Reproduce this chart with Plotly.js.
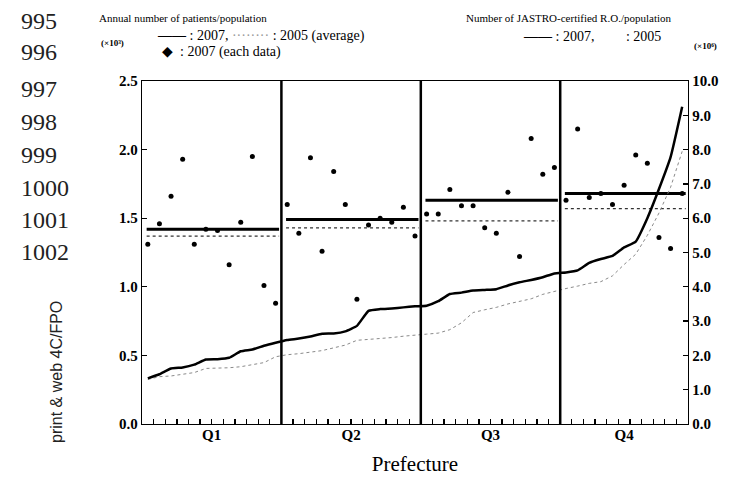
<!DOCTYPE html>
<html><head><meta charset="utf-8">
<script src="https://cdn.plot.ly/plotly-3.0.1.min.js"></script>
<style>html,body{margin:0;padding:0;background:#fff;}#chart{width:730px;height:483px;}</style>
</head><body><div id="chart"></div>
<script>
// ---- data ----
const quadrants = ['Q1', 'Q2', 'Q3', 'Q4'];
const quadrantSizes = [12, 12, 12, 11];
// Annual number of patients/population, 2007, each prefecture (x10^3)
const patients2007 = [
  1.31, 1.46, 1.66, 1.93, 1.31, 1.42, 1.41, 1.16, 1.47, 1.95, 1.01, 0.88,
  1.60, 1.39, 1.94, 1.26, 1.84, 1.60, 0.91, 1.45, 1.50, 1.47, 1.58, 1.37,
  1.53, 1.53, 1.71, 1.59, 1.59, 1.43, 1.39, 1.69, 1.22, 2.08, 1.82, 1.87,
  1.63, 2.15, 1.65, 1.68, 1.60, 1.74, 1.96, 1.90, 1.36, 1.28, 1.68
];
// quadrant averages (x10^3)
const avg2007 = [1.42, 1.49, 1.63, 1.68];
const avg2005 = [1.37, 1.43, 1.48, 1.57];
// Number of JASTRO-certified R.O./population (x10^-6)
const ro2007 = [
  1.33, 1.45, 1.62, 1.65, 1.73, 1.88, 1.89, 1.93, 2.12, 2.17, 2.28, 2.37,
  2.45, 2.49, 2.55, 2.63, 2.64, 2.70, 2.86, 3.30, 3.35, 3.37, 3.40, 3.43,
  3.45, 3.58, 3.79, 3.83, 3.89, 3.91, 3.93, 4.04, 4.13, 4.20, 4.28, 4.39,
  4.42, 4.48, 4.70, 4.81, 4.90, 5.15, 5.32, 6.00, 6.85, 7.78, 9.25
];
const ro2005 = [
  1.30, 1.38, 1.40, 1.45, 1.50, 1.62, 1.62, 1.64, 1.67, 1.72, 1.79, 1.96,
  2.02, 2.05, 2.10, 2.14, 2.22, 2.30, 2.44, 2.46, 2.48, 2.52, 2.56, 2.60,
  2.62, 2.65, 2.75, 2.95, 3.25, 3.33, 3.40, 3.50, 3.58, 3.65, 3.78, 3.87,
  3.95, 4.02, 4.10, 4.15, 4.32, 4.65, 4.95, 5.50, 6.15, 6.90, 7.95
];
const leftTicks = [0, 0.5, 1.0, 1.5, 2.0, 2.5];
const rightTicks = [0, 1, 2, 3, 4, 5, 6, 7, 8, 9, 10];
const lineNumbers = ['995', '996', '997', '998', '999', '1000', '1001', '1002'];

// ---- geometry helpers ----
const W = 730, H = 483, L = 142, R = 688, T = 81, B = 424;
const n = patients2007.length;
const idx = patients2007.map((_, i) => i);
const starts = []; let acc = 0;
quadrantSizes.forEach(q => { starts.push(acc); acc += q; });
const ends = starts.map((s, k) => s + quadrantSizes[k] - 1);
const centers = starts.map((s, k) => (s + ends[k]) / 2);
const bounds = starts.slice(1).map(s => s - 0.5);
const minorVals = [];
for (let i = 0; i < n - 1; i++) { const v = i + 0.5; if (!bounds.includes(v)) minorVals.push(v); }

const serif = 'Liberation Serif, Times New Roman, serif';
const traces = [];
traces.push({x: idx, y: ro2005, yaxis: 'y2', mode: 'lines', line: {color: '#8a8a8a', width: 1, dash: 'dot'}, hoverinfo: 'skip'});
traces.push({x: idx, y: ro2007, yaxis: 'y2', mode: 'lines', line: {color: '#000', width: 2.5, shape: 'spline', smoothing: 0.4}, hoverinfo: 'skip'});
traces.push({x: idx, y: patients2007, xaxis: 'x2', mode: 'markers', marker: {color: '#000', size: 5, symbol: 'circle'}});
quadrants.forEach((q, k) => {
  traces.push({x: [starts[k] - 0.1, ends[k] + 0.3], y: [avg2005[k], avg2005[k]], mode: 'lines', line: {color: '#333', width: 1.2, dash: 'dot'}});
  traces.push({x: [starts[k] - 0.1, ends[k] + 0.3], y: [avg2007[k], avg2007[k]], mode: 'lines', line: {color: '#000', width: 3}});
});

function ann(text, xpx, ypx, o) {
  return Object.assign({text: text, xref: 'paper', yref: 'paper', x: (xpx - L) / (R - L), y: (B - ypx) / (B - T),
    xanchor: 'left', yanchor: 'middle', showarrow: false, font: {family: serif, size: 12, color: '#000'}}, o || {});
}
const lnY = [21, 52, 89, 122, 155, 188, 220, 252];
const annotations = [];
lineNumbers.forEach((t, i) => annotations.push(ann(t, 19, lnY[i], {font: {family: serif, size: 24, color: '#222'}})));
annotations.push(ann('print &amp; web 4C/FPO', 56, 372, {xanchor: 'center', textangle: -90, font: {family: 'Liberation Sans, Arial, sans-serif', size: 16, color: '#222'}}));
annotations.push(ann('Annual number of patients/population', 97, 18, {font: {family: serif, size: 11, color: '#000'}}));
annotations.push(ann('<b>——</b> : 2007, <span style="color:#999">········</span> : 2005 (average)', 155, 36, {font: {family: serif, size: 14, color: '#000'}}));
annotations.push(ann('(×10³)', 99, 43, {font: {family: serif, size: 9, color: '#000', weight: 'bold'}}));
annotations.push(ann('◆  : 2007 (each data)', 160, 52, {font: {family: serif, size: 14, color: '#000'}}));
annotations.push(ann('Number of JASTRO-certified R.O./population', 464, 18, {font: {family: serif, size: 11, color: '#000'}}));
annotations.push(ann('<b>——</b> : 2007,         : 2005', 521, 36, {font: {family: serif, size: 14, color: '#000'}}));
annotations.push(ann('(×10⁶)', 692, 46, {font: {family: serif, size: 9, color: '#000', weight: 'bold'}}));

const tickFont = {family: serif, size: 15, color: '#000', weight: 'bold'};
const layout = {
  width: W, height: H,
  margin: {l: L, r: W - R, t: T, b: H - B, pad: 0},
  paper_bgcolor: '#fff', plot_bgcolor: '#fff',
  showlegend: false,
  xaxis: {
    range: [-0.5, n - 0.5], tickmode: 'array', tickvals: minorVals, ticktext: minorVals.map(() => ''),
    ticks: 'inside', ticklen: 5, tickcolor: '#000', tickwidth: 1.3,
    showticklabels: true, showline: true, mirror: true, linecolor: '#000', linewidth: 1.2, showgrid: false, zeroline: false,
    tickfont: {size: 1}
  },
  xaxis2: {
    range: [-0.5, n - 0.5], overlaying: 'x', anchor: 'y', side: 'bottom', tickmode: 'array', tickvals: centers, ticktext: quadrants,
    ticks: '', showline: false, showgrid: false, zeroline: false,
    tickfont: {family: serif, size: 15, color: '#000', weight: 'bold'},
    title: {text: 'Prefecture', font: {family: serif, size: 21, color: '#000'}, standoff: 14}
  },
  yaxis: {
    range: [0, 2.5], tickmode: 'array', tickvals: leftTicks, tickformat: '.1f', ticks: 'inside', ticklen: 5, tickcolor: '#000', tickwidth: 1.3,
    showline: true, linecolor: '#000', linewidth: 1.2, showgrid: false, zeroline: false, tickfont: tickFont
  },
  yaxis2: {
    range: [0, 10], overlaying: 'y', side: 'right', tickmode: 'array', tickvals: rightTicks, tickformat: '.1f',
    ticks: 'inside', ticklen: 5, tickcolor: '#000', tickwidth: 1.3, showline: true, linecolor: '#000', linewidth: 1.2,
    showgrid: false, zeroline: false, tickfont: tickFont
  },
  shapes: bounds.map(b => ({type: 'line', xref: 'x', yref: 'paper', x0: b, x1: b, y0: 0, y1: 1, line: {color: '#000', width: 2.5}})),
  annotations: annotations
};
Plotly.newPlot('chart', traces, layout, {staticPlot: true, displayModeBar: false});
</script>
</body></html>
